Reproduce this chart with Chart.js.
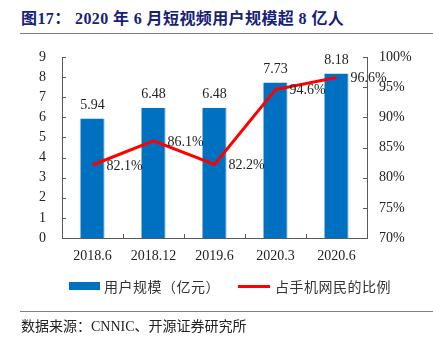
<!DOCTYPE html>
<html>
<head>
<meta charset="utf-8">
<script src="https://cdn.jsdelivr.net/npm/chart.js@4.4.1/dist/chart.umd.min.js"></script>
<style>
  body { margin: 0; background: #fff; }
  #wrap { position: relative; width: 433px; height: 338px; overflow: hidden; }
  #title { position: absolute; left: 21px; top: 5px; font: bold 16px 'Liberation Serif', 'Noto Sans CJK SC'; color: #16217a; white-space: nowrap; letter-spacing: 0.4px; }
  .rule { position: absolute; left: 20px; right: 0; height: 1px; background: #808080; }
  #source { position: absolute; left: 21px; top: 315px; font: 14px 'Liberation Serif', 'Noto Sans CJK SC'; color: #222; white-space: nowrap; }
  canvas { position: absolute; left: 0; top: 0; }
  .lg { position: absolute; top: 276px; font: 14px 'Noto Sans CJK SC', sans-serif; color: #333; line-height: 20px; white-space: nowrap; letter-spacing: 0.5px; }
  .sw { position: absolute; }
</style>
</head>
<body>
<div id="wrap">
  <div id="title">图17： 2020 年 6 月短视频用户规模超 8 亿人</div>
  <div class="rule" style="top:33px"></div>
  <canvas id="c" width="433" height="338"></canvas>
  <div class="sw" style="left:69px;top:282px;width:31px;height:8px;background:#0070c0"></div>
  <div class="lg" style="left:104px">用户规模（亿元）</div>
  <div class="sw" style="left:238px;top:285px;width:32px;height:3px;background:#ff0000"></div>
  <div class="lg" style="left:275px">占手机网民的比例</div>
  <div class="rule" style="top:311px"></div>
  <div id="source">数据来源：CNNIC、开源证券研究所</div>
</div>
<script>
const labels = ['2018.6', '2018.12', '2019.6', '2020.3', '2020.6'];
const users = [5.94, 6.48, 6.48, 7.73, 8.18];
const share = [82.1, 86.1, 82.2, 94.6, 96.6];

const serif = "'Liberation Serif', 'Times New Roman', serif";
const axisColor = '#595959';

// value labels + inward tick marks
const extras = {
  id: 'extras',
  afterDatasetsDraw(chart) {
    const ctx = chart.ctx;
    const a = chart.chartArea;
    ctx.save();
    ctx.font = '14px ' + serif;
    ctx.fillStyle = '#222';
    ctx.textBaseline = 'middle';
    chart.getDatasetMeta(1).data.forEach((bar, i) => {
      ctx.textAlign = 'center';
      ctx.fillText(users[i].toFixed(2), bar.x, bar.y - 13);
    });
    chart.getDatasetMeta(0).data.forEach((pt, i) => {
      ctx.textAlign = 'left';
      ctx.fillText(share[i].toFixed(1) + '%', pt.x + 14, pt.y + 1);
    });

    ctx.strokeStyle = axisColor;
    ctx.lineWidth = 1;
    ctx.beginPath();
    const y = chart.scales.y, y1 = chart.scales.y1;
    y.ticks.forEach(t => {
      const py = Math.round(y.getPixelForValue(t.value)) + 0.5;
      ctx.moveTo(a.left, py); ctx.lineTo(a.left + 4, py);
    });
    y1.ticks.forEach(t => {
      const py = Math.round(y1.getPixelForValue(t.value)) + 0.5;
      ctx.moveTo(a.right, py); ctx.lineTo(a.right - 4, py);
    });
    const step = (a.right - a.left) / labels.length;
    for (let i = 1; i < labels.length; i++) {
      const px = Math.round(a.left + step * i) + 0.5;
      ctx.moveTo(px, a.bottom); ctx.lineTo(px, a.bottom - 4);
    }
    ctx.stroke();
    ctx.restore();
  }
};

new Chart(document.getElementById('c'), {
  data: {
    labels: labels,
    datasets: [
      {
        type: 'line',
        label: '占手机网民的比例',
        data: share,
        yAxisID: 'y1',
        borderColor: '#ff0000',
        backgroundColor: '#ff0000',
        borderWidth: 3,
        pointRadius: 0,
        tension: 0,
        order: 0
      },
      {
        type: 'bar',
        label: '用户规模（亿元）',
        data: users,
        yAxisID: 'y',
        backgroundColor: '#0070c0',
        borderColor: '#9dc3e6',
        borderWidth: { right: 1 },
        barPercentage: 0.4,
        categoryPercentage: 1,
        order: 1
      }
    ]
  },
  options: {
    responsive: false,
    animation: false,
    layout: { padding: { top: 57, bottom: 70, left: 0, right: 0 } },
    plugins: {
      tooltip: { enabled: false },
      legend: { display: false }
    },
    scales: {
      x: {
        offset: true,
        grid: { display: false, drawTicks: false },
        border: { color: axisColor, width: 1 },
        ticks: { color: '#222', padding: 10, font: { size: 14, family: serif } },
        afterFit: s => { s.height = 30; }
      },
      y: {
        position: 'left',
        min: 0, max: 9,
        ticks: { stepSize: 1, autoSkip: false, color: '#222', padding: 16, font: { size: 14, family: serif } },
        grid: { display: false, drawTicks: false },
        border: { color: axisColor, width: 1 },
        afterFit: s => { s.width = 62; }
      },
      y1: {
        position: 'right',
        min: 70, max: 100,
        ticks: { stepSize: 5, autoSkip: false, color: '#222', padding: 12, font: { size: 14, family: serif }, callback: v => v + '%' },
        grid: { display: false, drawTicks: false },
        border: { color: axisColor, width: 1 },
        afterFit: s => { s.width = 66; }
      }
    }
  },
  plugins: [extras]
});
</script>
</body>
</html>
